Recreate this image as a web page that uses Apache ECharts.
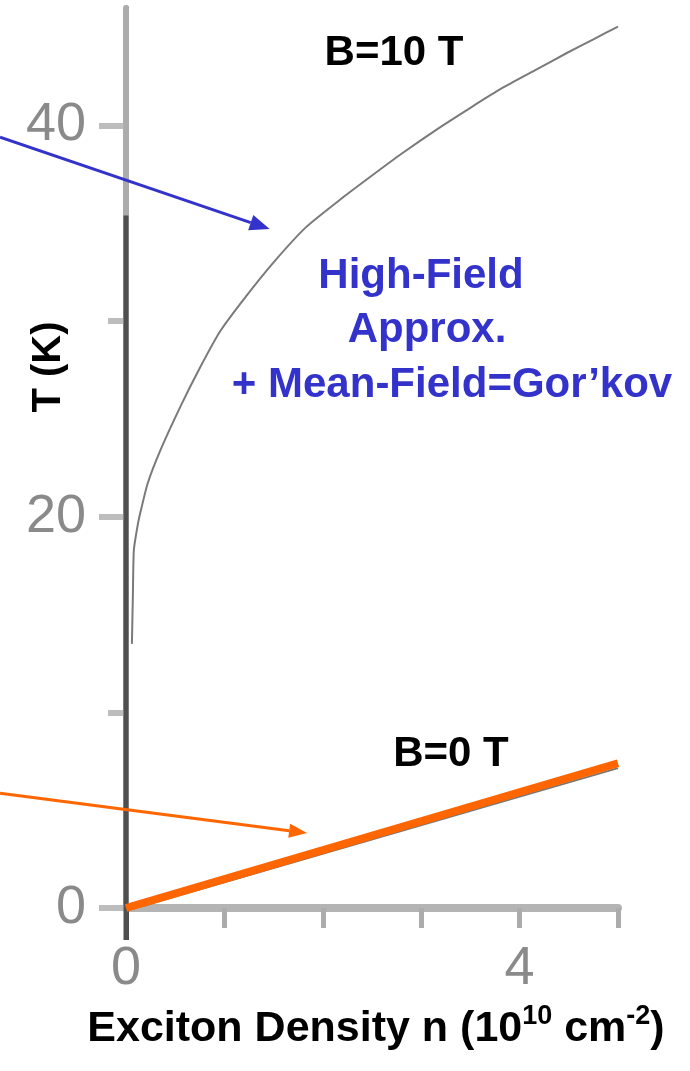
<!DOCTYPE html>
<html><head><meta charset="utf-8">
<script src="https://cdn.jsdelivr.net/npm/echarts@6/dist/echarts.min.js"></script>
<style>html,body{margin:0;padding:0;background:#fff}#c{width:690px;height:1071px}</style>
</head><body><div id="c"></div>
<script>
// B = 10 T curve (High-Field approx. + Mean-Field = Gor'kov)
const densityHigh = [0.06, 0.07, 0.08, 0.12, 0.15, 0.22, 0.35, 0.56, 0.75, 0.96, 1.21, 1.5, 1.83, 2.2, 2.49, 2.8, 3.16, 3.5, 3.82, 4.15, 4.48, 4.75, 5.0];
const tempHigh    = [13.5, 16.0, 18.3, 19.6, 20.3, 21.7, 23.4, 25.7, 27.6, 29.5, 31.2, 33.0, 34.8, 36.3, 37.4, 38.55, 39.8, 40.9, 41.9, 42.8, 43.7, 44.4, 45.05];
// B = 0 T line
const densityZero = [0, 5];
const tempZero    = [0, 7.4];
// faint gray original trace beneath the orange line
const densityTrace = [0.15, 5];
const tempTrace    = [0.08, 7.15];
// tick labels
const xTickLabels = [0, 4];
const xTicks = [1, 2, 3, 4, 5];
const yTickLabels = [0, 20, 40];
const yMinorTicks = [10, 30];
// annotation arrows (data coords: start, tip)
const blueArrow = [[-1.28, 39.4], [1.46, 34.7]];
const orangeArrow = [[-1.28, 5.87], [1.84, 3.83]];

const FONT = "'Liberation Sans', Arial, sans-serif";
const chart = echarts.init(document.getElementById('c'), null, {renderer: 'canvas'});

const pairs = (xs, ys) => xs.map((x, i) => [x, ys[i]]);

chart.setOption({
  animation: false,
  backgroundColor: '#ffffff',
  grid: {left: 126, right: 72, top: 8, bottom: 163},
  xAxis: [
    {type: 'value', min: 0, max: 5, position: 'bottom',
     axisLine: {show: true, onZero: false, lineStyle: {color: '#b4b4b4', width: 8}},
     axisTick: {show: true, customValues: xTicks, length: 20, lineStyle: {color: '#acacac', width: 5}},
     axisLabel: {customValues: xTickLabels, margin: 34, fontSize: 54, color: '#8a8a8a', fontFamily: FONT},
     splitLine: {show: false}},
    {type: 'value', min: 0, max: 5, position: 'bottom',
     axisLine: {show: false},
     axisTick: {show: true, customValues: [0], length: 32, lineStyle: {color: '#4f4f4f', width: 5}},
     axisLabel: {show: false}, splitLine: {show: false}}
  ],
  yAxis: [
    {type: 'value', min: 0, max: 46, position: 'left',
     axisLine: {show: true, onZero: false, lineStyle: {color: '#4f4f4f', width: 5}},
     axisTick: {show: true, customValues: yTickLabels, length: 27, lineStyle: {color: '#bdbdbd', width: 6}},
     axisLabel: {customValues: yTickLabels, margin: 40, fontSize: 54, color: '#8a8a8a', fontFamily: FONT},
     splitLine: {show: false}},
    {type: 'value', min: 0, max: 46, position: 'left',
     axisLine: {show: false},
     axisTick: {show: true, customValues: yMinorTicks, length: 18, lineStyle: {color: '#bdbdbd', width: 6}},
     axisLabel: {show: false}, splitLine: {show: false}},
    {type: 'value', min: 0, max: 46, position: 'right',
     axisLine: {show: true, lineStyle: {color: '#adadad', width: 6}},
     axisTick: {show: false}, axisLabel: {show: false}, splitLine: {show: false}}
  ],
  series: [
    {type: 'line', name: 'B=10 T', data: pairs(densityHigh, tempHigh), smooth: 0.2, symbol: 'none',
     lineStyle: {color: '#7a7a7a', width: 2}, z: 3},
    {type: 'line', name: 'trace', data: pairs(densityTrace, tempTrace), symbol: 'none',
     lineStyle: {color: '#777777', width: 2}, z: 3},
    {type: 'line', name: 'B=0 T', data: pairs(densityZero, tempZero), symbol: 'none',
     lineStyle: {color: '#ff6600', width: 8, cap: 'butt'}, z: 4}
  ]
});

function arrow(def, color, width, headLen, headHalf) {
  const p0 = chart.convertToPixel({gridIndex: 0}, def[0]);
  const p1 = chart.convertToPixel({gridIndex: 0}, def[1]);
  const dx = p1[0] - p0[0], dy = p1[1] - p0[1];
  const L = Math.hypot(dx, dy), ux = dx / L, uy = dy / L;
  const bx = p1[0] - ux * headLen, by = p1[1] - uy * headLen;
  return [
    {type: 'line', shape: {x1: p0[0], y1: p0[1], x2: bx, y2: by}, style: {stroke: color, lineWidth: width}, z: 10},
    {type: 'polygon', shape: {points: [[p1[0], p1[1]], [bx - uy * headHalf, by + ux * headHalf], [bx + uy * headHalf, by - ux * headHalf]]},
     style: {fill: color}, z: 10}
  ];
}

function txt(text, x, y, color, size, extra) {
  return Object.assign({type: 'text', x: x, y: y, z: 12,
    style: {text: text, fill: color, font: 'bold ' + size + 'px ' + FONT, align: 'center', verticalAlign: 'middle'}}, extra || {});
}

// left axis line shading as in the scanned original: light top, dark below
const pTop = chart.convertToPixel({gridIndex: 0}, [0, 46]);
const pMid = chart.convertToPixel({gridIndex: 0}, [0, 35.4]);
const pBot = chart.convertToPixel({gridIndex: 0}, [0, 0]);

const BLUE = '#3333cc';
chart.setOption({
  graphic: [].concat(
    [
      {type: 'line', shape: {x1: pTop[0], y1: pTop[1], x2: pMid[0], y2: pMid[1]}, style: {stroke: '#acacac', lineWidth: 5}, z: 1},
      {type: 'line', shape: {x1: pMid[0], y1: pMid[1], x2: pBot[0], y2: pBot[1] + 32}, style: {stroke: '#4f4f4f', lineWidth: 5}, z: 1}
    ],
    arrow(blueArrow, BLUE, 3, 20, 8),
    arrow(orangeArrow, '#ff6600', 3, 18, 7),
    [
      txt('B=10 T', 394, 53, '#000', 42),
      txt('High-Field', 421, 276, BLUE, 42),
      txt('Approx.', 427, 330, BLUE, 42),
      txt('+ Mean-Field=Gor\u2019kov', 452, 385, BLUE, 42),
      txt('B=0 T', 451, 754, '#000', 42),
      txt('T (K)', 49, 367, '#000', 40, {rotation: Math.PI / 2}),
      {type: 'text', x: 376, y: 1027, z: 12,
       style: {
         text: '{b|Exciton Density n (10}{s|10}{b| cm}{s|-2}{b|)}',
         align: 'center', verticalAlign: 'middle',
         rich: {
           b: {font: 'bold 43px ' + FONT, fill: '#000', verticalAlign: 'bottom', lineHeight: 48},
           s: {font: 'bold 27px ' + FONT, fill: '#000', verticalAlign: 'top', lineHeight: 48, padding: [0, 0, 14, 0]}
         }
       }}
    ]
  )
});
</script>
</body></html>
